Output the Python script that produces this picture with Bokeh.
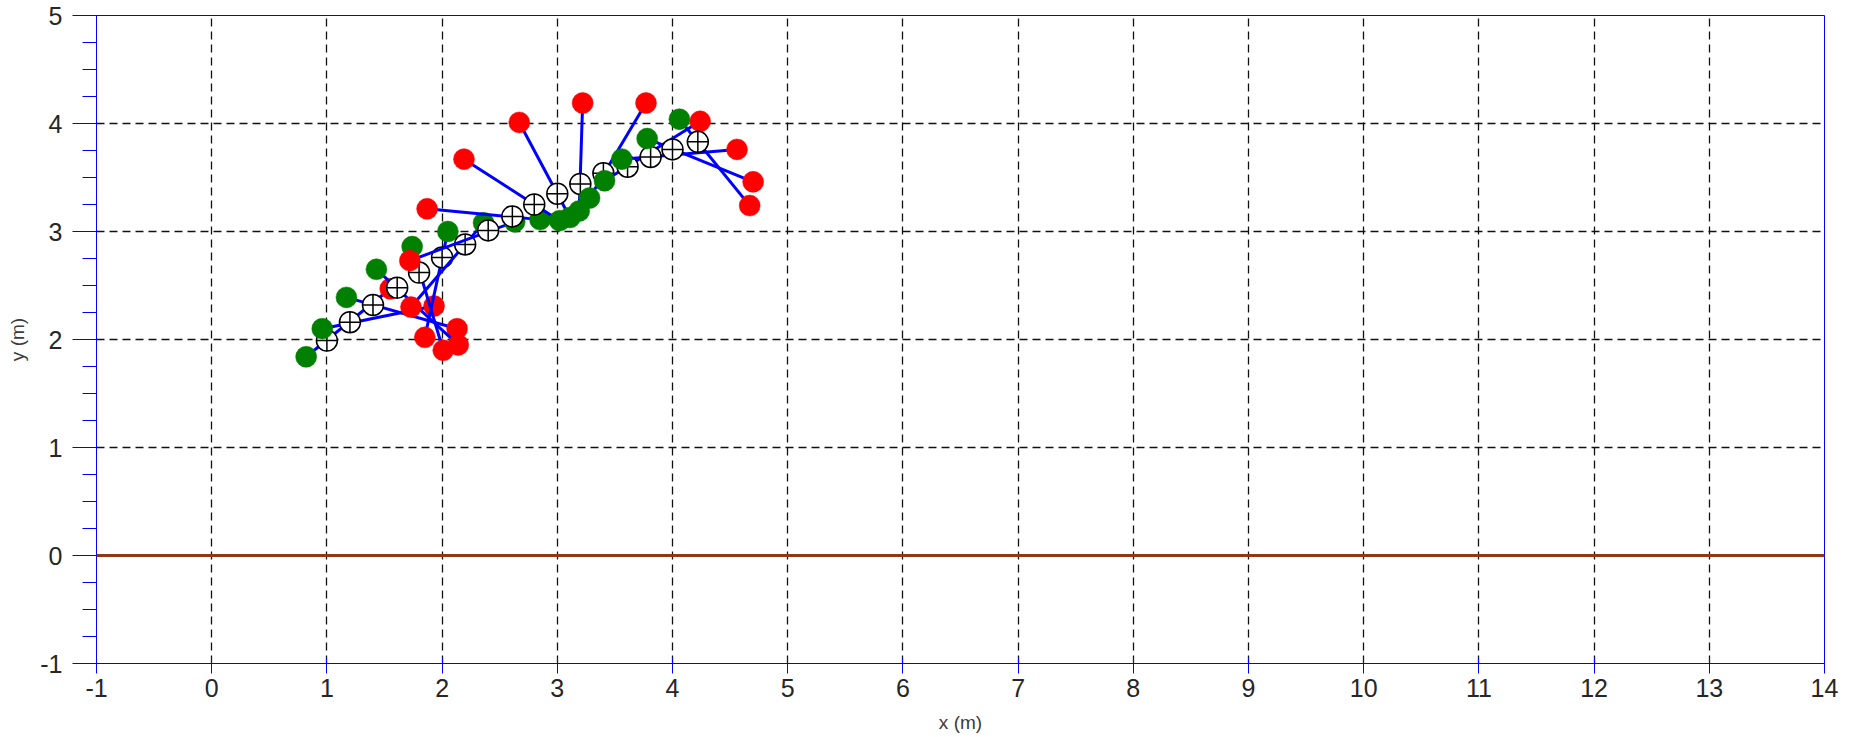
from bokeh.plotting import figure
from bokeh.models import Range1d, FixedTicker, Span, CustomJSTickFormatter
from bokeh.embed import file_html
from bokeh.resources import INLINE

# centre of mass (white markers)
com_x = [1.00, 1.20, 1.40, 1.61, 1.80, 2.00, 2.20, 2.40, 2.61, 2.80, 3.00, 3.20, 3.40, 3.61, 3.81, 4.00, 4.22]
com_y = [1.99, 2.16, 2.32, 2.48, 2.62, 2.76, 2.88, 3.01, 3.14, 3.25, 3.35, 3.44, 3.54, 3.60, 3.69, 3.76, 3.83]
# heavy end (green)
head_x = [0.82, 0.96, 1.17, 1.43, 1.74, 2.05, 2.36, 2.63, 2.85, 3.02, 3.11, 3.19, 3.28, 3.41, 3.56, 3.78, 4.06]
head_y = [1.84, 2.10, 2.39, 2.65, 2.86, 3.00, 3.08, 3.09, 3.11, 3.10, 3.13, 3.19, 3.31, 3.47, 3.67, 3.86, 4.04]
# light end (red)
tip_x = [1.55, 1.93, 2.13, 2.14, 2.01, 1.85, 1.73, 1.72, 1.87, 2.19, 2.67, 3.22, 3.77, 4.24, 4.56, 4.70, 4.67]
tip_y = [2.47, 2.31, 2.10, 1.95, 1.90, 2.02, 2.30, 2.73, 3.21, 3.67, 4.01, 4.19, 4.19, 4.02, 3.76, 3.46, 3.24]

x_ticks = list(range(-1, 15))
y_ticks = list(range(-1, 6))
y_minor = [t / 4 for t in range(-4, 21)]
x_grid = list(range(0, 14))
y_grid = list(range(0, 5))
ground_y = 0

FONT = "Liberation Sans"
BLUE = "#0000FF"

p = figure(width=1854, height=737, output_backend="svg", toolbar_location=None,
           x_range=Range1d(-1, 14), y_range=Range1d(-1, 5),
           min_border_left=96, min_border_right=30, min_border_top=15, min_border_bottom=74,
           background_fill_color="white", border_fill_color="white")
p.outline_line_color = BLUE
p.outline_line_width = 1

fmt = CustomJSTickFormatter(code="return tick.toString();")

xa = p.xaxis[0]
xa.ticker = FixedTicker(ticks=x_ticks, minor_ticks=[])
xa.formatter = fmt
xa.axis_line_color = BLUE
xa.major_tick_line_color = BLUE
xa.major_tick_in = 6
xa.major_tick_out = 10
xa.minor_tick_line_color = None
xa.major_label_standoff = 5
xa.major_label_text_font = FONT
xa.major_label_text_font_size = "25px"
xa.major_label_text_color = "#262626"
xa.axis_label = "x (m)"
xa.axis_label_standoff = 12
xa.axis_label_text_font = FONT
xa.axis_label_text_font_size = "19px"
xa.axis_label_text_font_style = "normal"
xa.axis_label_text_color = "#3c3c3c"

ya = p.yaxis[0]
ya.ticker = FixedTicker(ticks=y_ticks, minor_ticks=y_minor)
ya.formatter = fmt
ya.axis_line_color = BLUE
ya.major_tick_line_color = BLUE
ya.major_tick_in = 0
ya.major_tick_out = 24
ya.minor_tick_line_color = BLUE
ya.minor_tick_in = 0
ya.minor_tick_out = 14
ya.major_label_standoff = 10
ya.major_label_text_font = FONT
ya.major_label_text_font_size = "25px"
ya.major_label_text_color = "#262626"
ya.axis_label = "y (m)"
ya.axis_label_standoff = 9
ya.axis_label_text_font = FONT
ya.axis_label_text_font_size = "19px"
ya.axis_label_text_font_style = "normal"
ya.axis_label_text_color = "#3c3c3c"

p.xgrid.ticker = FixedTicker(ticks=x_grid)
p.ygrid.ticker = FixedTicker(ticks=y_grid)
for g in (p.xgrid[0], p.ygrid[0]):
    g.grid_line_color = "#111111"
    g.grid_line_width = 1.3
    g.grid_line_dash = "8 5"

ground = Span(location=ground_y, dimension="width", line_color="#8B3A12", line_width=3)
p.add_layout(ground)

for i in range(len(com_x)):
    p.line(x=[head_x[i], tip_x[i]], y=[head_y[i], tip_y[i]], line_color=BLUE, line_width=3)
    p.scatter(x=[head_x[i]], y=[head_y[i]], marker="circle", size=21,
              fill_color="#008000", line_color="#008000", line_width=0.5)
    p.scatter(x=[com_x[i]], y=[com_y[i]], marker="circle_cross", size=21,
              fill_color="white", line_color="black", line_width=1.5)
    p.scatter(x=[tip_x[i]], y=[tip_y[i]], marker="circle", size=21,
              fill_color="#FF0000", line_color="#FF0000", line_width=0.5)

open("out.html", "w").write(file_html(p, INLINE))
